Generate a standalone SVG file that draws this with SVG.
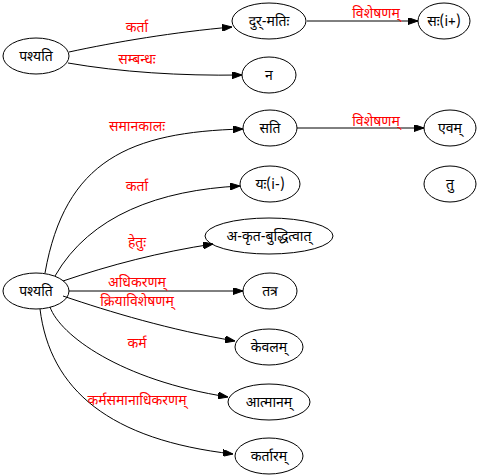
<svg xmlns="http://www.w3.org/2000/svg" width="488" height="476" viewBox="0 0 488 476">
<style>
.n ellipse{fill:none;stroke:#000;stroke-width:1}
.n text{font-family:"Noto Sans Devanagari","Noto Sans","Lohit Devanagari",sans-serif;font-size:14px;text-anchor:middle;fill:#000}
.e path{fill:none;stroke:#000;stroke-width:1;marker-end:url(#arr)}
.e text{font-family:"Noto Sans Devanagari","Noto Sans","Lohit Devanagari",sans-serif;font-size:14px;text-anchor:middle;fill:#ff0000}
</style>
<defs>
<marker id="arr" markerUnits="userSpaceOnUse" markerWidth="10" markerHeight="7" refX="10" refY="3.5" orient="auto">
<path d="M0,0 L10,3.5 L0,7 z" fill="#000" stroke="#000"/>
</marker>
</defs>
<rect width="488" height="476" fill="#fff"/>
<g id="connectors" class="e">
<path d="M69,52 C115,42 175,32 232,27"/>
<text x="137" y="32">कर्ता</text>
<path d="M68,63 C120,72 180,76 242,75"/>
<text x="137" y="64">सम्बन्धः</text>
<path d="M307,21 L418,21"/>
<text x="376" y="18">विशेषणम्</text>
<path d="M297,128 L424,128"/>
<text x="376" y="126">विशेषणम्</text>
<path d="M45,273 C65,160 130,132 243,129"/>
<text x="137" y="131">समानकालः</text>
<path d="M55,276 C90,215 160,190 240,186"/>
<text x="137" y="191">कर्ता</text>
<path d="M63,281 C110,265 160,252 213,244"/>
<text x="137" y="247">हेतुः</text>
<path d="M69,291 L243,291"/>
<text x="137" y="287">अधिकरणम्</text>
<path d="M63,296 C110,312 170,330 235,341"/>
<text x="137" y="306">क्रियाविशेषणम्</text>
<path d="M50,307 C60,335 120,380 228,397"/>
<text x="137" y="348">कर्म</text>
<path d="M40,309 C50,390 110,440 233,454"/>
<text x="137" y="405">कर्मसमानाधिकरणम्</text>
</g>
<g id="n1" class="n"><ellipse cx="36" cy="56" rx="33" ry="18"/><text x="36" y="61">पश्यति</text></g>
<g id="n2" class="n"><ellipse cx="269" cy="21" rx="37" ry="18"/><text x="269" y="26">दुर्-मतिः</text></g>
<g id="n3" class="n"><ellipse cx="444" cy="21" rx="26" ry="18"/><text x="444" y="26">सः(i+)</text></g>
<g id="n4" class="n"><ellipse cx="269" cy="75" rx="27" ry="18"/><text x="269" y="80">न</text></g>
<g id="n5" class="n"><ellipse cx="36" cy="291" rx="33" ry="18"/><text x="36" y="296">पश्यति</text></g>
<g id="n6" class="n"><ellipse cx="270" cy="128" rx="27" ry="18"/><text x="270" y="133">सति</text></g>
<g id="n7" class="n"><ellipse cx="450" cy="128" rx="26" ry="18"/><text x="450" y="133">एवम्</text></g>
<g id="n8" class="n"><ellipse cx="270" cy="184" rx="30" ry="18"/><text x="270" y="189">यः(i-)</text></g>
<g id="n9" class="n"><ellipse cx="450" cy="184" rx="26" ry="18"/><text x="450" y="189">तु</text></g>
<g id="n10" class="n"><ellipse cx="269" cy="236" rx="64" ry="18"/><text x="269" y="241">अ-कृत-बुद्धित्वात्</text></g>
<g id="n11" class="n"><ellipse cx="270" cy="291" rx="27" ry="18"/><text x="270" y="296">तत्र</text></g>
<g id="n12" class="n"><ellipse cx="269" cy="347" rx="34" ry="18"/><text x="269" y="352">केवलम्</text></g>
<g id="n13" class="n"><ellipse cx="269" cy="402" rx="41" ry="18"/><text x="269" y="407">आत्मानम्</text></g>
<g id="n14" class="n"><ellipse cx="269" cy="456" rx="34" ry="18"/><text x="269" y="461">कर्तारम्</text></g>
</svg>
